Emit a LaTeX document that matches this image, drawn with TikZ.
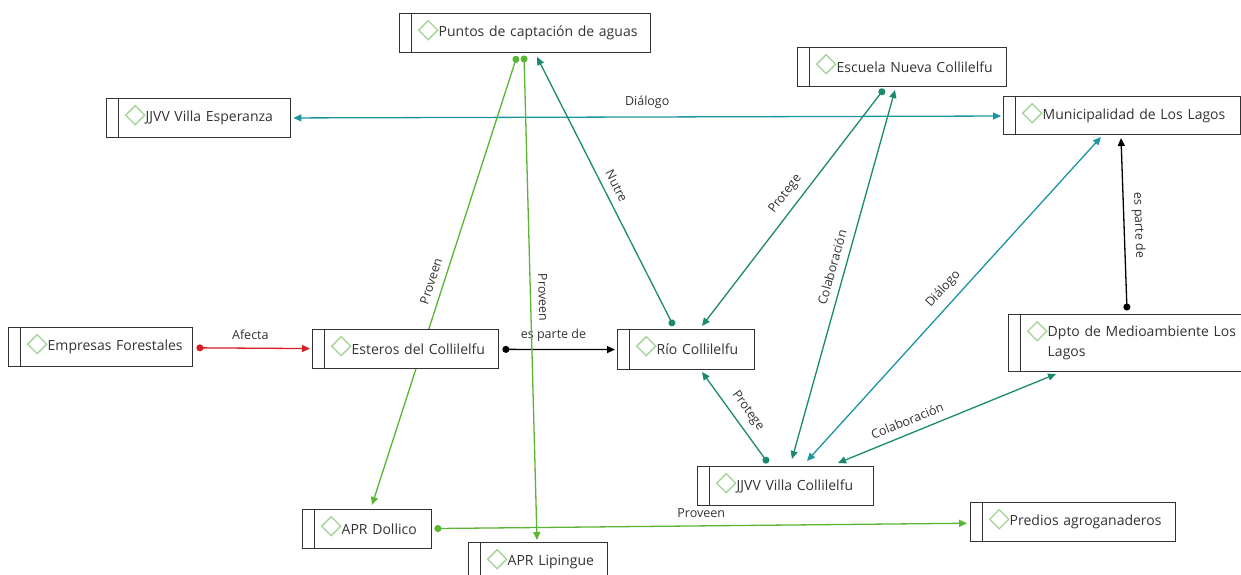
\documentclass[tikz,border=0pt]{standalone}
\usepackage{fontspec}
\setmainfont{Open Sans}
\usetikzlibrary{arrows.meta}
\definecolor{boxgray}{HTML}{333333}
\definecolor{txtgray}{HTML}{333333}
\definecolor{diagreen}{HTML}{A3D496}
\definecolor{rojo}{HTML}{D81F26}
\definecolor{turquesa}{HTML}{1B96A0}
\definecolor{verdeazul}{HTML}{1A8A6E}
\definecolor{verde}{HTML}{5BB534}
\newcommand{\boxfont}{\fontsize{14}{20}\selectfont}
\newcommand{\lblfont}{\fontsize{12.5}{15}\selectfont}
\newcommand{\ind}{\hspace*{39pt}}
\pgfdeclarelayer{edges}
\pgfsetlayers{edges,main}
\tikzset{
  box/.style={draw=boxgray, line width=1.4pt, fill=white, text=txtgray, font=\boxfont,
    anchor=north west, inner xsep=0pt, text width=#1, align=left, minimum height=39pt,
    path picture={
      \draw[boxgray, line width=1.2pt] ([xshift=12pt]path picture bounding box.north west)
        -- ([xshift=12pt]path picture bounding box.south west);
      \draw[diagreen, line width=1.3pt] ([shift={(28.5pt,-7pt)}]path picture bounding box.north west)
        -- ++(9.5pt,-9.5pt) -- ++(-9.5pt,-9.5pt) -- ++(-9.5pt,9.5pt) -- cycle;
    }},
  rel/.style={line width=1.3pt},
  dotarrow/.style={rel, {Circle[length=7pt]}-{Triangle[length=8pt,width=7pt]}},
  twoway/.style={rel, {Triangle[length=8pt,width=7pt]}-{Triangle[length=8pt,width=7pt]}},
  lbl/.style={font=\lblfont, text=txtgray, inner sep=7.5pt}
}

\begin{document}
\begin{tikzpicture}[x=1pt, y=-1pt]
  \begin{pgfonlayer}{edges}
    \fill[white] (0,0) rectangle (1241,575);
  \end{pgfonlayer}
  \useasboundingbox (0,0) rectangle (1241,575);
  % actores
  \node[box=251pt] (puntos) at (399,13) {\ind Puntos de captación de aguas};
  \node[box=184pt] (esperanza) at (106,98) {\ind JJVV Villa Esperanza};
  \node[box=209pt] (escuela) at (797,47) {\ind Escuela Nueva Collilelfu};
  \node[box=237pt, minimum height=38pt] (muni) at (1003,96) {\ind Municipalidad de Los Lagos};
  \node[box=184pt] (empresas) at (8,327) {\ind Empresas Forestales};
  \node[box=186pt] (esteros) at (312,329) {\ind Esteros del Collilelfu};
  \node[box=137pt, minimum height=40pt] (rio) at (617,329) {\ind Río Collilelfu};
  \node[box=240pt, minimum height=57pt] (dpto) at (1008,314) {\ind Dpto de Medioambiente Los\\\ind Lagos};
  \node[box=176pt] (collilelfu) at (697,466) {\ind JJVV Villa Collilelfu};
  \node[box=205pt] (predios) at (970,502) {\ind Predios agroganaderos};
  \node[box=129pt] (dollico) at (302,509) {\ind APR Dollico};
  \node[box=139pt] (lipingue) at (468,542) {\ind APR Lipingue};
  % relaciones
  \begin{pgfonlayer}{edges}
    \draw[dotarrow, rojo, shorten <=3pt, shorten >=2pt] (empresas) -- (esteros)
      node[lbl, pos=0.48, above] {Afecta};
    \draw[dotarrow, black, shorten <=3pt, shorten >=2pt] (esteros) -- (rio)
      node[lbl, pos=0.46, above] {es parte de};
    \draw[twoway, turquesa, shorten <=2pt, shorten >=2pt] (esperanza) -- (muni)
      node[lbl, pos=0.5, above] {Diálogo};
    \draw[dotarrow, verde, shorten <=2pt, shorten >=3pt] (dollico) -- (predios)
      node[lbl, pos=0.5, above] {Proveen};
    \draw[dotarrow, verde] ([shift={(118,43)}]puntos.north west) -- ([shift={(70,-4)}]dollico.north west)
      node[lbl, pos=0.51, sloped, above] {Proveen};
    \draw[dotarrow, verde] ([shift={(125,42.5)}]puntos.north west) -- ([shift={(69,-2)}]lipingue.north west)
      node[lbl, pos=0.5, sloped, above] {Proveen};
    \draw[dotarrow, verdeazul] ([shift={(56.5,-3)}]rio.north west) -- ([shift={(138,44)}]puntos.north west)
      node[lbl, pos=0.5, sloped, above] {Nutre};
    \draw[dotarrow, verdeazul] ([shift={(87,42)}]escuela.north west) -- ([shift={(85,-3)}]rio.north west)
      node[lbl, pos=0.48, sloped, above] {Protege};
    \draw[twoway, verdeazul] ([shift={(98,43)}]escuela.north west) -- ([shift={(95,-7)}]collilelfu.north west)
      node[lbl, pos=0.49, sloped, above] {Colaboración};
    \draw[twoway, turquesa] ([shift={(98,41)}]muni.north west) -- ([shift={(110,-5)}]collilelfu.north west)
      node[lbl, pos=0.5, sloped, above] {Diálogo};
    \draw[twoway, verdeazul] ([shift={(48,60)}]dpto.north west) -- ([shift={(141,-3)}]collilelfu.north west)
      node[lbl, pos=0.66, sloped, above] {Colaboración};
    \draw[dotarrow, verdeazul] ([shift={(71,-3)}]collilelfu.north west) -- ([shift={(85,43)}]rio.north west)
      node[lbl, pos=0.48, sloped, above] {Protege};
    \draw[dotarrow, black] ([shift={(119,-3.5)}]dpto.north west) -- ([shift={(118,42)}]muni.north west)
      node[lbl, pos=0.49, sloped, above] {es parte de};
  \end{pgfonlayer}
\end{tikzpicture}
\end{document}
